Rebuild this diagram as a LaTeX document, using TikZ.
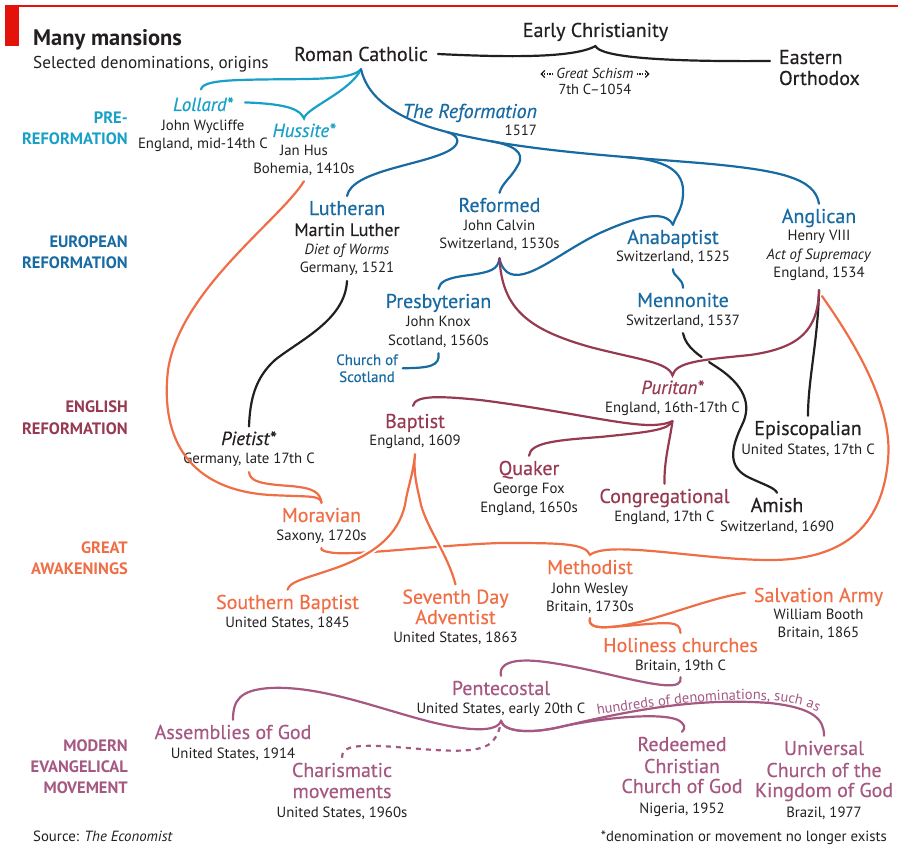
\documentclass[tikz,border=0pt]{standalone}
\usepackage{fontspec}
\setmainfont{PT Sans}
\newfontfamily\medfam[FakeBold=0.4]{PT Sans}
\usetikzlibrary{calc,positioning,arrows.meta,decorations.text}

\definecolor{EconRed}{RGB}{227,18,11}
\definecolor{ink}{RGB}{35,31,32}
\definecolor{preRef}{RGB}{25,160,198}
\definecolor{euroRef}{RGB}{24,106,163}
\definecolor{engRef}{RGB}{150,58,82}
\definecolor{awake}{RGB}{240,110,70}
\definecolor{evang}{RGB}{165,88,130}

\newcommand*\nmfont{\medfam\fontsize{20}{18}\selectfont}
\newcommand*\dtfont{\fontsize{14.8}{18}\selectfont}
\newcommand*\itfont{\medfam\fontsize{19}{18}\selectfont\itshape}
\newcommand*\nm[2]{{\nmfont\color{#1}#2}}
\newcommand*\inm[2]{{\itfont\color{#1}#2}}

\tikzset{
	>={Straight Barb[length=3.5pt,width=7pt]},
	denom/.style={
		align=center,
		inner sep=0pt,
		outer sep=5pt,
		font=\dtfont,
		text=ink,
		anchor=base},
	era/.style={
		align=right,
		inner sep=0pt,
		font=\fontsize{16.5}{21}\selectfont\bfseries,
		text=#1,
		anchor=base east},
	branch/.style={draw=#1, line width=2.2pt, line cap=round},
	halo/.style={preaction={draw=white, line width=6pt}},
}

\begin{document}
\begin{tikzpicture}[x=1pt,y=-1pt]
\useasboundingbox (0,0) rectangle (898,845);

% header
\fill[EconRed] (5,5) rectangle (19,46);
\fill[EconRed] (5,5) rectangle (898,7);
\node[anchor=base west, inner sep=0pt, text=ink, font=\fontsize{22.5}{24}\selectfont\bfseries] (title) at (33,46) {Many mansions};
\node[anchor=base west, inner sep=0pt, text=ink, font=\fontsize{17.2}{18}\selectfont] (sub) at (33,69) {Selected denominations, origins};

% eras (anchored on the last line)
\node[era=preRef] (e-pre) at (128,145) {PRE-\\REFORMATION};
\node[era=euroRef] (e-euro) at (128,269) {EUROPEAN\\REFORMATION};
\node[era=engRef] (e-eng) at (128,434) {ENGLISH\\REFORMATION};
\node[era=awake] (e-awake) at (128,574) {GREAT\\AWAKENINGS};
\node[era=evang] (e-mod) at (128,793) {MODERN\\EVANGELICAL\\MOVEMENT};

% denominations (anchored on the last line)
\node[denom] (rc) at (361,61) {\nm{ink}{Roman Catholic}};
\node[denom] (ec) at (595.5,37) {\nm{ink}{Early Christianity}};
\node[denom, align=left, anchor=base west] (eo) at (774,85) {\nm{ink}{Eastern}\\[3pt]\nm{ink}{Orthodox}};
\node[denom, font=\fontsize{14.5}{16}\selectfont] (gs) at (595,95) {\textit{Great Schism}\\7th C--1054};

\node[denom] (lol) at (203,149) {\inm{preRef}{Lollard*}\\[2pt] John Wycliffe\\ England, mid-14th C};
\node[denom] (hus) at (304,174) {\inm{preRef}{Hussite*}\\[1pt] Jan Hus\\ Bohemia, 1410s};

\node[denom, align=right, anchor=base east] (refm) at (542,136) {{\medfam\fontsize{20}{18}\selectfont\itshape\color{euroRef}The Reformation}\\ 1517};
\node[denom] (luth) at (347,273) {\nm{euroRef}{Lutheran}\\[3pt] {\medfam\fontsize{18}{18}\selectfont Martin Luther}\\[1pt] \textit{Diet of Worms}\\ Germany, 1521};
\node[denom] (calv) at (499.5,249) {\nm{euroRef}{Reformed}\\[1pt] John Calvin\\ Switzerland, 1530s};
\node[denom] (ana) at (673,262) {\nm{euroRef}{Anabaptist}\\ Switzerland, 1525};
\node[denom] (angl) at (819,278) {\nm{euroRef}{Anglican}\\ Henry VIII\\[1pt] \textit{Act of Supremacy}\\ England, 1534};
\node[denom] (pres) at (438.5,346) {\nm{euroRef}{Presbyterian}\\[1pt] John Knox\\[1pt] Scotland, 1560s};
\node[denom, font=\medfam\fontsize{15}{17}\selectfont, text=euroRef] (cos) at (367,382) {Church of\\Scotland};
\node[denom] (menn) at (683,326) {\nm{euroRef}{Mennonite}\\[1pt] Switzerland, 1537};

\node[denom] (pur) at (672.5,413) {\inm{engRef}{Puritan*}\\[1pt] England, 16th-17th C};
\node[denom] (bap) at (415,446) {\nm{engRef}{Baptist}\\ England, 1609};
\node[denom] (piet) at (249,464) {\inm{ink}{Pietist\textup{*}}\\[1pt] Germany, late 17th C};
\node[denom] (epis) at (808,454) {\nm{ink}{Episcopalian}\\[1pt] United States, 17th C};
\node[denom] (quak) at (529,512) {\nm{engRef}{Quaker}\\ George Fox\\[1pt] England, 1650s};
\node[denom] (cong) at (664.5,521) {\nm{engRef}{Congregational}\\ England, 17th C};
\node[denom] (amish) at (777,531) {\nm{ink}{Amish}\\[1pt] Switzerland, 1690};

\node[denom] (mor) at (321.5,540) {\nm{awake}{Moravian}\\ Saxony, 1720s};
\node[denom] (meth) at (590,611) {\nm{awake}{Methodist}\\[1pt] John Wesley\\ Britain, 1730s};
\node[denom] (sbap) at (287.5,627) {\nm{awake}{Southern Baptist}\\ United States, 1845};
\node[denom] (sda) at (455.5,642) {\nm{awake}{Seventh Day}\\[1pt]\nm{awake}{Adventist}\\ United States, 1863};
\node[denom] (salv) at (818.5,637) {\nm{awake}{Salvation Army}\\[-1pt] William Booth\\ Britain, 1865};
\node[denom] (hol) at (680.5,670) {\nm{awake}{Holiness churches}\\ Britain, 19th C};

\node[denom] (pent) at (501,713) {\nm{evang}{Pentecostal}\\ United States, early 20th C};
\node[denom] (aog) at (233,758) {\nm{evang}{Assemblies of God}\\[1pt] United States, 1914};
\node[denom] (charis) at (342,817) {\nm{evang}{Charismatic}\\[3pt]\nm{evang}{movements}\\[1pt] United States, 1960s};
\node[denom] (rccg) at (682,813) {\nm{evang}{Redeemed}\\[4pt]\nm{evang}{Christian}\\[2pt]\nm{evang}{Church of God}\\[2pt] Nigeria, 1952};
\node[denom] (uckg) at (824,817) {\nm{evang}{Universal}\\[4pt]\nm{evang}{Church of the}\\[2pt]\nm{evang}{Kingdom of God}\\[2pt] Brazil, 1977};

% footer
\node[anchor=base west, inner sep=0pt, text=ink, font=\fontsize{14.8}{16}\selectfont] (src) at (33,841) {Source: \textit{The Economist}};
\node[anchor=base east, inner sep=0pt, text=ink, font=\fontsize{14.8}{16}\selectfont] (note) at (887,841) {*denomination or movement no longer exists};

% tips
\coordinate (rctip) at ($(rc.south)+(0,3)$);
\coordinate (calvtip) at ($(calv.south)+(0,2)$);
\coordinate (angltip) at ($(angl.south)+(0,4)$);

% great schism
\draw[branch=ink] ($(rc.east)+(5,0)$) .. controls (520,58) and (575,57) .. (ec.south)
	.. controls (600,56) and (650,62) .. ($(eo.north west)+(-4,16)$);
\draw[ink, line width=1.1pt, dash pattern=on 1.5pt off 1.2pt, ->] ($(gs.base west)+(2,-21)$) -- ++(-13,0);
\draw[ink, line width=1.1pt, dash pattern=on 1.5pt off 1.2pt, ->] ($(gs.base east)+(-2,-21)$) -- ++(13,0);

% pre-reformation
\draw[branch=preRef] (rctip) .. controls (350,82) and (300,78) .. (240,80)
	.. controls (212,81) and (202,84) .. ($(lol.north)+(-2,-3)$);
\draw[branch=preRef] ($(lol.north)+(42,10)$) .. controls (290,104) and (300,110) .. (hus.north)
	.. controls (306,108) and (350,92) .. (rctip);

% european reformation
\draw[branch=euroRef] (rctip) .. controls (368,100) and (400,120) .. (447,132) coordinate (t-luth)
	.. controls (520,150) and (600,155) .. (700,163) coordinate[pos=0.2] (t-ref) coordinate[pos=0.74] (t-ana)
	.. controls (780,170) and (815,178) .. (angl.north);
\draw[branch=euroRef] (t-luth) .. controls (458,135) and (462,143) .. (450,150)
	.. controls (425,165) and (352,170) .. (luth.north);
\draw[branch=euroRef] (t-ref) .. controls (512,145) and (526,152) .. (518,165)
	.. controls (512,177) and (502,183) .. (calv.north);
\draw[branch=euroRef] (t-ana) .. controls (665,160) and (685,170) .. (683,195)
	.. controls (682,210) and (676,215) .. (ana.north);
\draw[branch=euroRef] (ana.north) .. controls (665,210) and (640,215) .. (600,233)
	.. controls (560,252) and (525,285) .. (507,272)
	.. controls (502,268) and (500,262) .. (calvtip);
\draw[branch=euroRef] (calvtip) .. controls (498,270) and (490,272) .. (470,275)
	.. controls (445,278) and (440,282) .. (pres.north);
\draw[branch=euroRef] (pres.south) .. controls (440,366) and (430,368) .. (cos.east);
\draw[branch=euroRef] (ana.south) .. controls (673,277) and (683,278) .. (menn.north);

% black lines
\draw[branch=ink] (luth.south) .. controls (345,320) and (300,340) .. (275,360)
	.. controls (255,378) and (250,400) .. (piet.north);
\draw[branch=ink] (angltip) .. controls (818,340) and (808,380) .. (epis.north);
\draw[branch=ink, dash pattern=on 31pt off 9pt on 600pt] (menn.south)
	.. controls (686,348) and (700,356) .. (715,366)
	.. controls (745,385) and (752,405) .. (742,425)
	.. controls (730,450) and (728,468) .. (750,478)
	.. controls (765,485) and (775,488) .. (amish.north);

% english reformation
\draw[branch=engRef] (calvtip) .. controls (502,310) and (530,330) .. (590,347)
	.. controls (640,360) and (668,362) .. (pur.north)
	.. controls (676,362) and (700,360) .. (750,355)
	.. controls (800,348) and (818,330) .. (angltip);
\draw[branch=engRef] ($(bap.north)+(-2,-3)$) .. controls (415,395) and (440,396) .. (480,400)
	.. controls (560,410) and (620,425) .. (650,425)
	.. controls (665,425) and (670,422) .. (pur.south);
\draw[branch=engRef] (quak.north) .. controls (530,442) and (560,440) .. (600,437)
	.. controls (650,432) and (668,430) .. (pur.south);
\draw[branch=engRef] (pur.south) .. controls (670,440) and (664,460) .. (cong.north);

% great awakenings
\draw[branch=awake] (hus.south) .. controls (280,220) and (180,290) .. (168,370)
	.. controls (160,440) and (190,490) .. (270,495)
	.. controls (310,497) and (320,495) .. (mor.north);
\draw[branch=awake] (piet.south) .. controls (250,482) and (262,484) .. (290,486)
	.. controls (315,488) and (320,493) .. (mor.north);
\draw[branch=awake] ($(angltip)+(3,6)$) .. controls (860,350) and (893,410) .. (888,460)
	.. controls (882,530) and (840,560) .. (770,560)
	.. controls (700,560) and (610,540) .. (meth.north)
	.. controls (585,543) and (560,543) .. (500,543)
	.. controls (440,545) and (360,555) .. (335,553)
	.. controls (325,552) and (320,550) .. (mor.south);
\draw[branch=awake, halo] (bap.south) .. controls (413,475) and (407,490) .. (405,505)
	.. controls (398,535) and (375,555) .. (330,570)
	.. controls (300,580) and (290,582) .. (sbap.north)
	(bap.south) .. controls (413,475) and (418,490) .. (421,505)
	.. controls (428,530) and (448,555) .. (sda.north);
\draw[branch=awake] (meth.south) .. controls (588,626) and (596,628) .. (610,627)
	.. controls (650,624) and (700,600) .. ($(salv.north west)+(-4,10)$);
\draw[branch=awake] (meth.south) .. controls (588,626) and (596,628) .. (610,627)
	.. controls (645,625) and (672,620) .. (678,626)
	.. controls (680,628) and (680,630) .. (hol.north);

% modern evangelical movement
\draw[branch=evang] (hol.south) .. controls (683,690) and (660,686) .. (620,677)
	.. controls (560,663) and (520,655) .. (505,665)
	.. controls (501,668) and (500,672) .. (pent.north);
\draw[branch=evang] (aog.north) .. controls (233,700) and (240,690) .. (270,688)
	.. controls (330,685) and (400,718) .. (455,727)
	.. controls (480,731) and (498,730) .. (pent.south)
	.. controls (504,732) and (530,734) .. (560,727)
	.. controls (600,718) and (660,712) .. (678,720)
	.. controls (685,724) and (686,728) .. (rccg.north);
\draw[branch=evang] (pent.south) .. controls (504,732) and (530,734) .. (560,727)
	.. controls (640,708) and (700,698) .. (770,703)
	.. controls (815,708) and (824,720) .. (uckg.north);
\draw[branch=evang, line cap=butt, dash pattern=on 5pt off 5pt] (charis.north)
	.. controls (342,748) and (350,745) .. (380,746)
	.. controls (420,748) and (470,756) .. (488,745)
	.. controls (496,740) and (500,730) .. (pent.south);
\path[decorate, decoration={text along path, text align=center,
	text={|\fontsize{14.5}{15}\selectfont\color{evang}|hundreds of denominations, such as}}]
	(590,716) .. controls (680,702) and (790,688) .. (824,716);
\end{tikzpicture}
\end{document}
